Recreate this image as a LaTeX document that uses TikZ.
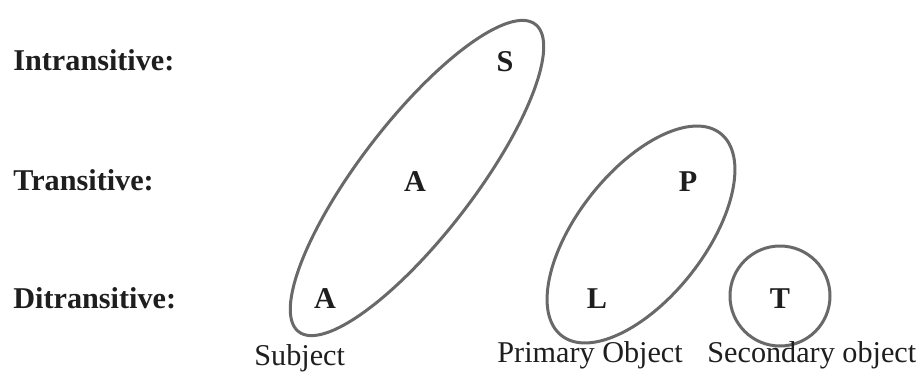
\documentclass[tikz,border=0pt]{standalone}
\usepackage{fontspec}
\setmainfont{Liberation Serif}
\definecolor{ringgray}{RGB}{105,105,105}
\definecolor{inkdark}{RGB}{30,30,30}
\begin{document}
\begin{tikzpicture}[x=0.5pt,y=-0.5pt,
  rowlabel/.style={anchor=base west,inner sep=0pt,font=\fontsize{15.1}{18}\selectfont\bfseries,text=inkdark},
  role/.style={anchor=base,inner sep=0pt,font=\fontsize{15.1}{18}\selectfont\bfseries,text=inkdark},
  caption/.style={anchor=base west,inner sep=0pt,font=\fontsize{15.1}{18}\selectfont,text=inkdark},
  ring/.style={draw=ringgray,line width=1.5pt}]
\useasboundingbox (0,0) rectangle (922,376);
\fill[white] (0,0) rectangle (922,376);
% row labels
\node[rowlabel] (intr) at (13,70) {Intransitive:};
\node[rowlabel] (tran) at (13,190) {Transitive:};
\node[rowlabel] (ditr) at (13,308) {Ditransitive:};
% roles
\node[role] (S) at (505,71) {S};
\node[role] (A1) at (415,191) {A};
\node[role] (A2) at (325,308) {A};
\node[role] (P) at (688,191) {P};
\node[role] (L) at (597,308) {L};
\node[role] (T) at (780,308) {T};
% groupings
\draw[ring, rotate around={52.4:(417,178)}] (417,178) ellipse [x radius=97pt, y radius=28.5pt];
\draw[ring, rotate around={51.8:(641,234.5)}] (641,234.5) ellipse [x radius=64.3pt, y radius=31.8pt];
\draw[ring] (780,296) circle [radius=25pt];
% captions
\node[caption] (subj) at (254,365) {Subject};
\node[caption] (prim) at (497,362) {Primary Object};
\node[caption] (sec) at (707,362) {Secondary object};
\end{tikzpicture}
\end{document}
